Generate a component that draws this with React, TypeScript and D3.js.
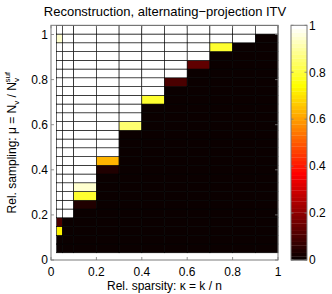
import React from "react";
import * as d3 from "d3";

const W = 332;
const H = 294;

// column (kappa) cell edges
const kappaEdges = [0.025, 0.05, 0.1, 0.2, 0.3, 0.4, 0.5, 0.6, 0.7, 0.8, 0.9, 1.0];
// row (mu) cell layout
const muStart = 0.032;
const muStep = 0.0388;
const muRows = 26;

// success rate per column, rows listed bottom to top
const col1 = [0, 0, 0.73, 0.1, 1, 1, 1, 1, 1, 1, 1, 1, 1, 1, 1, 1, 1, 1, 1, 1, 1, 1, 1, 1, 0.96, 1];
const col2 = [0, 0, 0, 0, 1, 1, 1, 1, 1, 1, 1, 1, 1, 1, 1, 1, 1, 1, 1, 1, 1, 1, 1, 1, 1, 1];
const col3 = [0, 0, 0, 0, 0, 0.03, 0.8, 0.95, 1, 1, 1, 1, 1, 1, 1, 1, 1, 1, 1, 1, 1, 1, 1, 1, 1, 1];
const col4 = [0, 0, 0, 0, 0, 0, 0, 0, 0, 0.03, 0.63, 1, 1, 1, 1, 1, 1, 1, 1, 1, 1, 1, 1, 1, 1, 1];
const col5 = [0, 0, 0, 0, 0, 0, 0, 0, 0, 0, 0, 0, 0, 0, 0.86, 1, 1, 1, 1, 1, 1, 1, 1, 1, 1, 1];
const col6 = [0, 0, 0, 0, 0, 0, 0, 0, 0, 0, 0, 0, 0, 0, 0, 0, 0, 0.8, 1, 1, 1, 1, 1, 1, 1, 1];
const col7 = [0, 0, 0, 0, 0, 0, 0, 0, 0, 0, 0, 0, 0, 0, 0, 0, 0, 0, 0, 0.09, 1, 1, 1, 1, 1, 1];
const col8 = [0, 0, 0, 0, 0, 0, 0, 0, 0, 0, 0, 0, 0, 0, 0, 0, 0, 0, 0, 0, 0, 0.12, 1, 1, 1, 1];
const col9 = [0, 0, 0, 0, 0, 0, 0, 0, 0, 0, 0, 0, 0, 0, 0, 0, 0, 0, 0, 0, 0, 0, 0, 0.8, 1, 1];
const col10 = [0, 0, 0, 0, 0, 0, 0, 0, 0, 0, 0, 0, 0, 0, 0, 0, 0, 0, 0, 0, 0, 0, 0, 0, 1, 1];
const col11 = [0, 0, 0, 0, 0, 0, 0, 0, 0, 0, 0, 0, 0, 0, 0, 0, 0, 0, 0, 0, 0, 0, 0, 0, 0, 1];
const columns = [col1, col2, col3, col4, col5, col6, col7, col8, col9, col10, col11];

const xTicks = [0, 0.2, 0.4, 0.6, 0.8, 1];
const yTicks = [0, 0.2, 0.4, 0.6, 0.8, 1];
const cTicks = [0, 0.2, 0.4, 0.6, 0.8, 1];

const title = "Reconstruction, alternating\u2212projection ITV";

// MATLAB "hot" colormap, 64 levels
function hot(v: number): string {
  const i = Math.min(63, Math.max(0, Math.round(v * 63))) + 1;
  const r = Math.min(1, i / 24);
  const g = Math.min(1, Math.max(0, (i - 24) / 24));
  const b = Math.min(1, Math.max(0, (i - 48) / 16));
  return d3.rgb(r * 255, g * 255, b * 255).formatHex();
}

const FONT = "'Liberation Sans', Arial, Helvetica, sans-serif";

export default function App() {
  const left = 51, right = 278, top = 25.3, bottom = 260;
  const muTop = muStart + muStep * muRows;
  const x = d3.scaleLinear().domain([0, 1]).range([left, right]);
  const y = d3.scaleLinear().domain([0, muTop]).range([bottom, top]);
  const muEdges = d3.range(muRows + 1).map((i) => muStart + i * muStep);

  const cbLeft = 291, cbRight = 307;
  const cy = d3.scaleLinear().domain([0, 1]).range([bottom, top]);
  const levels = d3.range(64);

  const tickLen = 3;
  const frame = "#7a7a7a";

  return (
    <svg width={W} height={H} style={{ display: "block", position: "absolute", left: 0, top: 0 }}
      fontFamily={FONT}>
      <rect x={0} y={0} width={W} height={H} fill="#fff" />
      <text x={(left + right) / 2 + 0.5} y={16} fontSize={13} textAnchor="middle">{title}</text>

      {/* cells */}
      {columns.map((col, ci) =>
        col.map((v, ri) => {
          const x0 = x(kappaEdges[ci]);
          const x1 = x(kappaEdges[ci + 1]);
          const y0 = y(muEdges[ri + 1]);
          const y1 = y(muEdges[ri]);
          return (
            <rect key={`${ci}-${ri}`} x={x0} y={y0} width={x1 - x0} height={y1 - y0}
              fill={hot(v)} stroke="#000" strokeWidth={0.6} />
          );
        })
      )}

      {/* ticks */}
      {xTicks.map((t) => (
        <g key={`xt${t}`}>
          <line x1={x(t)} x2={x(t)} y1={bottom} y2={bottom - tickLen} stroke={frame} strokeWidth={0.8} />
          <line x1={x(t)} x2={x(t)} y1={top} y2={top + tickLen} stroke={frame} strokeWidth={0.8} />
          <text x={x(t)} y={bottom + 16} fontSize={12} textAnchor="middle">{d3.format("~g")(t)}</text>
        </g>
      ))}
      {yTicks.map((t) => (
        <g key={`yt${t}`}>
          <line x1={left} x2={left + tickLen} y1={y(t)} y2={y(t)} stroke={frame} strokeWidth={0.8} />
          <line x1={right} x2={right - tickLen} y1={y(t)} y2={y(t)} stroke={frame} strokeWidth={0.8} />
          <text x={left - 3} y={y(t) + 4.3} fontSize={12} textAnchor="end">{d3.format("~g")(t)}</text>
        </g>
      ))}
      <rect x={left} y={top} width={right - left} height={bottom - top} fill="none" stroke={frame} strokeWidth={1} />

      {/* axis labels */}
      <text x={(left + right) / 2} y={290} fontSize={12} textAnchor="middle">
        Rel. sparsity: κ = k / n
      </text>
      <text transform={`translate(16, ${(top + bottom) / 2}) rotate(-90)`} fontSize={12} textAnchor="middle">
        Rel. sampling: μ = N<tspan fontSize={8} dy={3}>v</tspan>
        <tspan dy={-3}> / N</tspan>
        <tspan fontSize={8} dy={3}>v</tspan>
        <tspan fontSize={8} dx={-4.5} dy={-9}>suf</tspan>
      </text>

      {/* colorbar */}
      {levels.map((i) => {
        const y0 = cy((i + 1) / 64);
        const y1 = cy(i / 64);
        return <rect key={`cb${i}`} x={cbLeft} y={y0} width={cbRight - cbLeft} height={y1 - y0 + 0.3} fill={hot(i / 63)} />;
      })}
      <rect x={cbLeft} y={top} width={cbRight - cbLeft} height={bottom - top} fill="none" stroke={frame} strokeWidth={1} />
      {cTicks.map((t) => (
        <g key={`ct${t}`}>
          <line x1={cbRight} x2={cbRight - 2.5} y1={cy(t)} y2={cy(t)} stroke={frame} strokeWidth={0.8} />
          <line x1={cbLeft} x2={cbLeft + 2.5} y1={cy(t)} y2={cy(t)} stroke={frame} strokeWidth={0.8} />
          <text x={cbRight + 2} y={cy(t) + 4.3} fontSize={12}>{d3.format("~g")(t)}</text>
        </g>
      ))}
    </svg>
  );
}
